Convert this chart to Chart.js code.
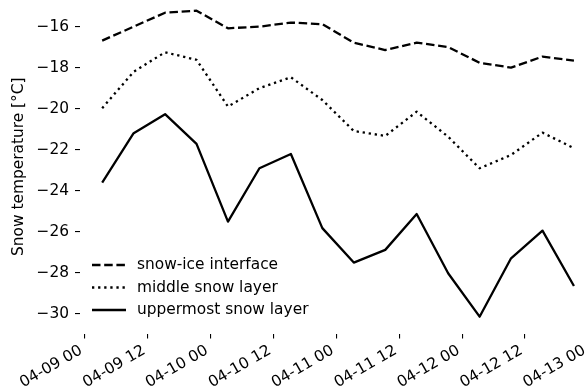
<!DOCTYPE html>
<html>
<head>
<meta charset="utf-8">
<script src="https://cdn.jsdelivr.net/npm/chart.js@4/dist/chart.umd.min.js"></script>
<style>
  html, body { margin: 0; padding: 0; background: #fff; overflow: hidden; }
  #wrap { width: 600px; height: 389px; }
</style>
</head>
<body>
<div id="wrap"><canvas id="chart" width="600" height="389"></canvas></div>
<script>
// hours since 04-09 00:00
const hours = [3.33, 9.33, 15.33, 21.33, 27.33, 33.33, 39.33, 45.33, 51.33, 57.33, 63.33, 69.33, 75.33, 81.33, 87.33, 93.33];

const snowIce = [-16.68, -16.0, -15.32, -15.22, -16.08, -16.0, -15.8, -15.88, -16.78, -17.14, -16.78, -17.0, -17.76, -18.0, -17.46, -17.66];
const middleSnow = [-19.98, -18.2, -17.25, -17.62, -19.9, -19.0, -18.47, -19.58, -21.09, -21.33, -20.15, -21.37, -22.91, -22.26, -21.17, -21.93];
const upperSnow = [-23.61, -21.2, -20.27, -21.72, -25.51, -22.91, -22.21, -25.83, -27.51, -26.89, -25.14, -28.03, -30.15, -27.3, -25.95, -28.65];

const xTickLabels = ["04-09 00", "04-09 12", "04-10 00", "04-10 12", "04-11 00", "04-11 12", "04-12 00", "04-12 12", "04-13 00"];
const seriesNames = ["snow-ice interface", "middle snow layer", "uppermost snow layer"];

const FONT = "DejaVu Sans";
const FSIZE = 15.4;
const LW = 2.3;
const dashes = [[8.5, 3.7], [2.3, 3.8], []];

function points(values) {
  return values.map((v, i) => ({ x: hours[i], y: v }));
}

function makeSet(name, values, dash) {
  return {
    label: name,
    data: points(values),
    borderColor: "#000",
    borderWidth: LW,
    borderDash: dash,
    borderJoinStyle: "round",
    pointRadius: 0,
    fill: false,
    tension: 0,
  };
}

// legend drawn inside the plot, lower left, like matplotlib
const legendPlugin = {
  id: "mplLegend",
  afterDraw(chart) {
    const ctx = chart.ctx;
    const rows = [265, 287.5, 310];
    ctx.save();
    ctx.font = FSIZE + "px '" + FONT + "'";
    ctx.fillStyle = "#000";
    ctx.textBaseline = "middle";
    seriesNames.forEach((name, i) => {
      ctx.beginPath();
      ctx.setLineDash(dashes[i]);
      ctx.lineWidth = LW;
      ctx.strokeStyle = "#000";
      ctx.moveTo(92, rows[i]);
      ctx.lineTo(126, rows[i]);
      ctx.stroke();
      ctx.fillText(name, 137, rows[i]);
    });
    ctx.restore();
  },
};

new Chart(document.getElementById("chart"), {
  type: "line",
  data: {
    datasets: [
      makeSet(seriesNames[0], snowIce, dashes[0]),
      makeSet(seriesNames[1], middleSnow, dashes[1]),
      makeSet(seriesNames[2], upperSnow, dashes[2]),
    ],
  },
  options: {
    responsive: false,
    devicePixelRatio: 1,
    animation: false,
    layout: { padding: 0 },
    plugins: {
      legend: { display: false },
      tooltip: { enabled: false },
    },
    scales: {
      x: {
        type: "linear",
        min: -0.9,
        max: 98.3,
        afterBuildTicks(scale) {
          scale.ticks = xTickLabels.map((_, i) => ({ value: i * 12 }));
        },
        afterFit(scale) {
          scale.height = 55.5;
          scale.paddingLeft = 0;
          scale.paddingRight = 0;
        },
        ticks: {
          autoSkip: false,
          maxRotation: 30,
          minRotation: 30,
          padding: 3,
          labelOffset: -3.5,
          color: "#000",
          font: { family: FONT, size: FSIZE },
          callback: (v) => xTickLabels[Math.round(v / 12)],
        },
        grid: {
          drawOnChartArea: false,
          drawTicks: true,
          tickLength: 5,
          color: "#000",
          lineWidth: 1.1,
        },
        border: { display: false },
      },
      y: {
        min: -30.97,
        max: -14.7,
        afterFit(scale) {
          scale.width = 80;
          scale.paddingTop = 0;
          scale.paddingBottom = 0;
        },
        ticks: {
          stepSize: 2,
          includeBounds: false,
          padding: 6,
          color: "#000",
          font: { family: FONT, size: FSIZE },
          callback: (v) => String(v).replace("-", "\u2212"),
        },
        grid: {
          drawOnChartArea: false,
          drawTicks: true,
          tickLength: 5,
          color: "#000",
          lineWidth: 1.1,
        },
        border: { display: false },
        title: {
          display: true,
          text: "Snow temperature [\u00b0C]",
          color: "#000",
          font: { family: FONT, size: FSIZE },
          padding: { top: 10, bottom: 0 },
        },
      },
    },
  },
  plugins: [legendPlugin],
});
</script>
</body>
</html>
